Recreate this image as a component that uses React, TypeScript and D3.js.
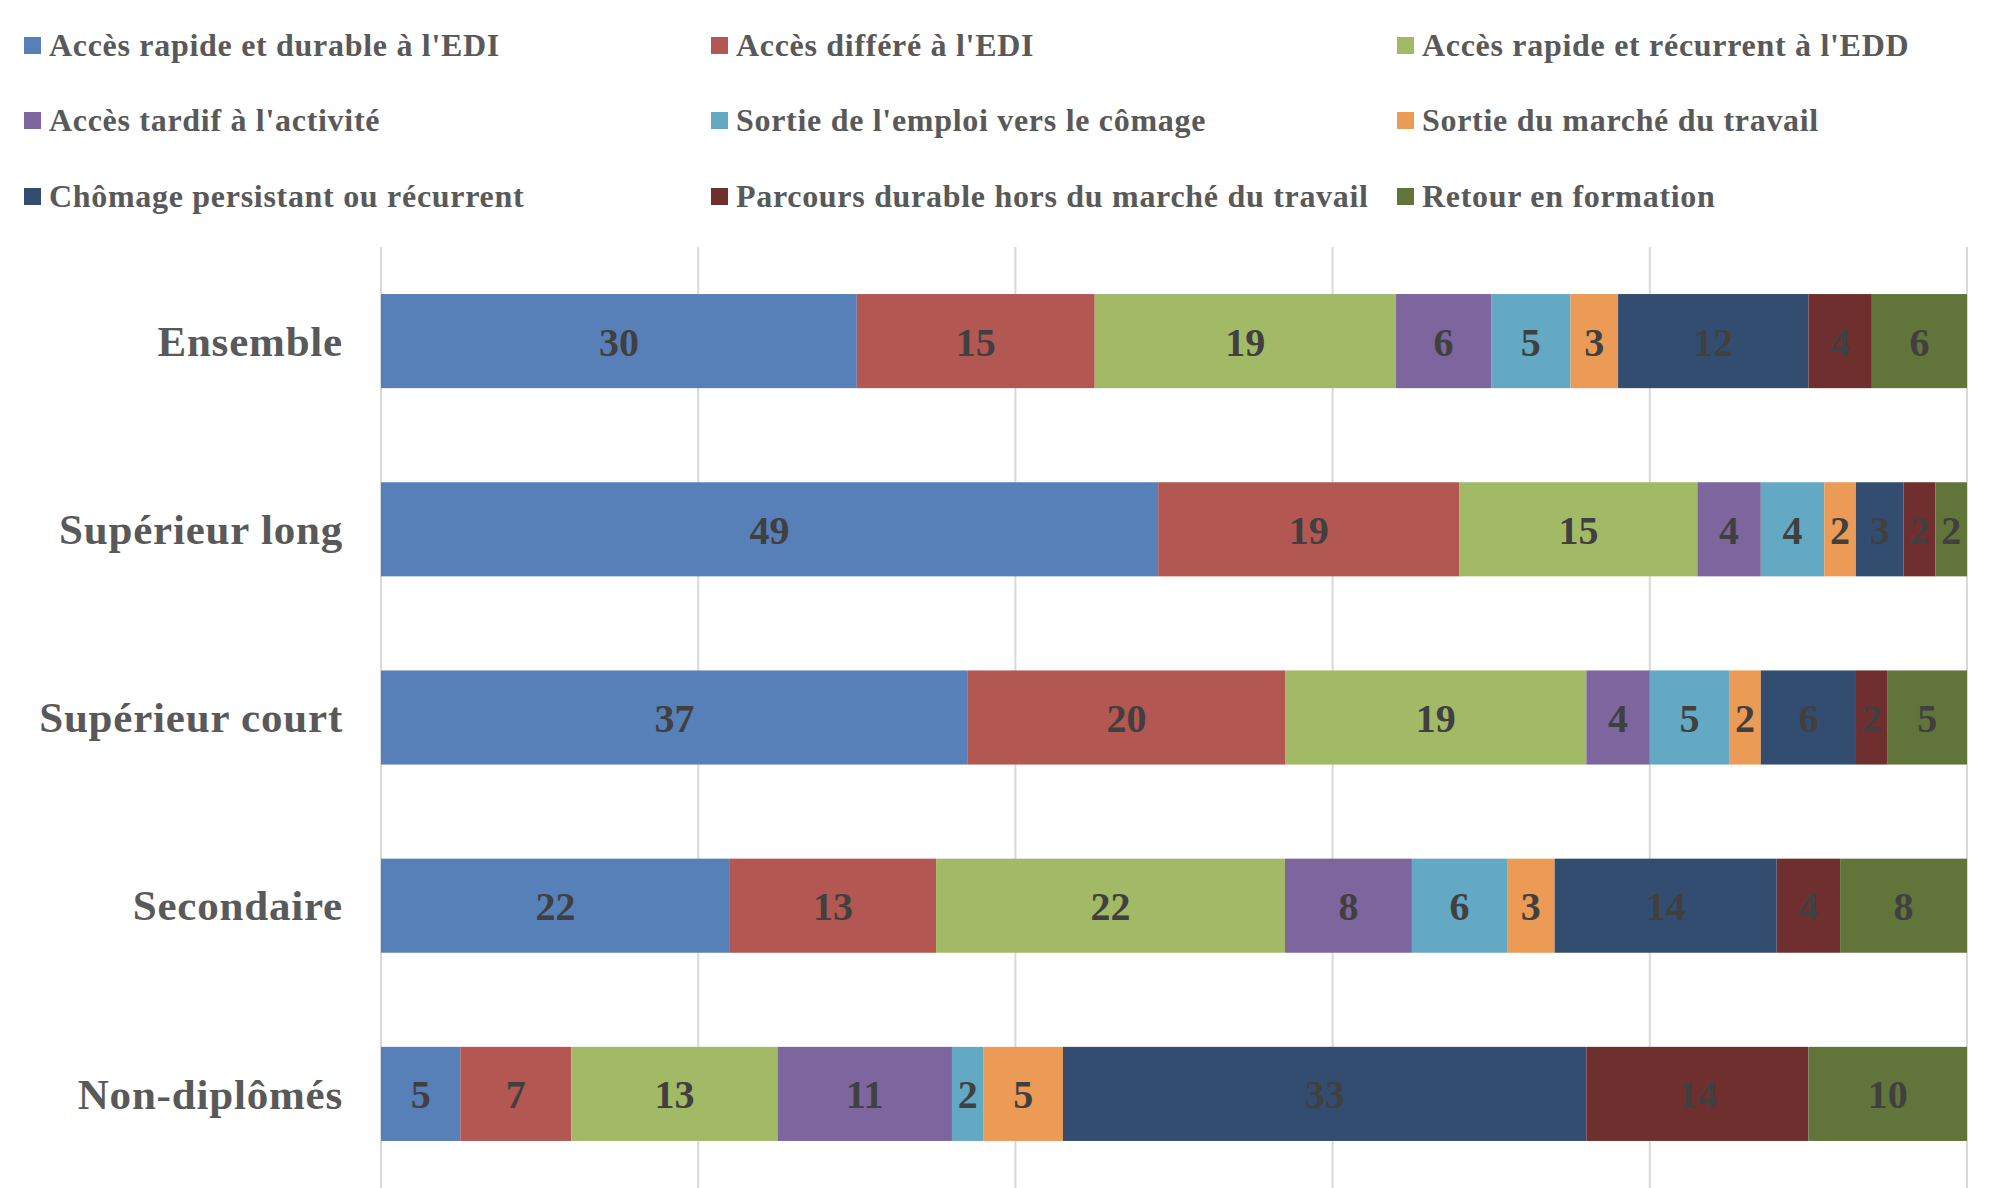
import React, { useEffect, useRef } from "react";
import * as d3 from "d3";

// Categories (top to bottom)
const categories = ["Ensemble", "Supérieur long", "Supérieur court", "Secondaire", "Non-diplômés"];

// Series names, in stacking order
const seriesNames = [
  "Accès rapide et durable à l'EDI",
  "Accès différé à l'EDI",
  "Accès rapide et récurrent à l'EDD",
  "Accès tardif à l'activité",
  "Sortie de l'emploi vers le cômage",
  "Sortie du marché du travail",
  "Chômage persistant ou récurrent",
  "Parcours durable hors du marché du travail",
  "Retour en formation",
];

const seriesColors = [
  "#5880B8",
  "#B35752",
  "#A2BA66",
  "#7D659D",
  "#63A9C3",
  "#EB9B56",
  "#334D71",
  "#6E2F2E",
  "#61743A",
];

// Values per series, one per category (same order as categories)
const rapideDurable = [30, 49, 37, 22, 5];
const differe = [15, 19, 20, 13, 7];
const rapideRecurrent = [19, 15, 19, 22, 13];
const tardif = [6, 4, 4, 8, 11];
const sortieEmploi = [5, 4, 5, 6, 2];
const sortieMarche = [3, 2, 2, 3, 5];
const chomage = [12, 3, 6, 14, 33];
const horsMarche = [4, 2, 2, 4, 14];
const formation = [6, 2, 5, 8, 10];

const seriesValues = [
  rapideDurable,
  differe,
  rapideRecurrent,
  tardif,
  sortieEmploi,
  sortieMarche,
  chomage,
  horsMarche,
  formation,
];

const xTicks = [0, 20, 40, 60, 80, 100];

const WIDTH = 2010;
const HEIGHT = 1188;
const FONT = "'Liberation Serif', 'DejaVu Serif', serif";

export default function App() {
  const svgRef = useRef<SVGSVGElement>(null);

  useEffect(() => {
    if (!svgRef.current) return;
    const svg = d3.select(svgRef.current);
    svg.selectAll("*").remove();

    svg.append("rect").attr("width", WIDTH).attr("height", HEIGHT).attr("fill", "#ffffff");

    // Legend: 3 columns x 3 rows
    const legendCols = [24, 711, 1397];
    const legendRows = [45, 120, 196];
    seriesNames.forEach((name, i) => {
      const lx = legendCols[i % 3];
      const ly = legendRows[Math.floor(i / 3)];
      svg
        .append("rect")
        .attr("x", lx)
        .attr("y", ly - 8)
        .attr("width", 17)
        .attr("height", 17)
        .attr("fill", seriesColors[i]);
      svg
        .append("text")
        .attr("x", lx + 25)
        .attr("y", ly)
        .attr("dy", "0.33em")
        .attr("font-family", FONT)
        .attr("font-weight", "bold")
        .attr("font-size", "32px")
        .attr("letter-spacing", "0.7px")
        .attr("fill", "#595959")
        .text(name);
    });

    // Scales
    const x = d3.scaleLinear().domain([0, 100]).range([381, 1967]);
    const y = d3
      .scaleBand<string>()
      .domain(categories)
      .range([247, HEIGHT])
      .paddingInner(0.5)
      .paddingOuter(0.25);

    // Gridlines
    svg
      .append("g")
      .selectAll("line")
      .data(xTicks)
      .join("line")
      .attr("x1", (d) => x(d))
      .attr("x2", (d) => x(d))
      .attr("y1", 247)
      .attr("y2", HEIGHT)
      .attr("stroke", "#D9D9D9")
      .attr("stroke-width", 2);

    // Stack
    const rows = categories.map((c, ci) => {
      const row: Record<string, number | string> = { category: c };
      seriesNames.forEach((s, si) => {
        row[s] = seriesValues[si][ci];
      });
      return row;
    });
    const stacked = d3.stack<any>().keys(seriesNames)(rows);

    const layers = svg
      .append("g")
      .selectAll("g")
      .data(stacked)
      .join("g")
      .attr("fill", (_d, i) => seriesColors[i]);

    layers
      .selectAll("rect")
      .data((d) => d)
      .join("rect")
      .attr("x", (d) => x(d[0]))
      .attr("width", (d) => x(d[1]) - x(d[0]))
      .attr("y", (d) => y(d.data.category as string)!)
      .attr("height", y.bandwidth());

    // Data labels
    const labels = svg.append("g");
    stacked.forEach((layer) => {
      layer.forEach((d) => {
        const v = d[1] - d[0];
        labels
          .append("text")
          .attr("x", (x(d[0]) + x(d[1])) / 2)
          .attr("y", y(d.data.category as string)! + y.bandwidth() / 2)
          .attr("dy", "0.36em")
          .attr("text-anchor", "middle")
          .attr("font-family", FONT)
          .attr("font-weight", "bold")
          .attr("font-size", "40px")
          .attr("fill", "#404040")
          .text(v);
      });
    });

    // Category labels
    svg
      .append("g")
      .selectAll("text")
      .data(categories)
      .join("text")
      .attr("x", 343)
      .attr("y", (d) => y(d)! + y.bandwidth() / 2)
      .attr("dy", "0.34em")
      .attr("text-anchor", "end")
      .attr("font-family", FONT)
      .attr("font-weight", "bold")
      .attr("font-size", "43px")
      .attr("letter-spacing", "0.8px")
      .attr("fill", "#595959")
      .text((d) => d);
  }, []);

  return (
    <svg
      ref={svgRef}
      width={WIDTH}
      height={HEIGHT}
      style={{ position: "absolute", left: 0, top: 0, display: "block" }}
    />
  );
}
